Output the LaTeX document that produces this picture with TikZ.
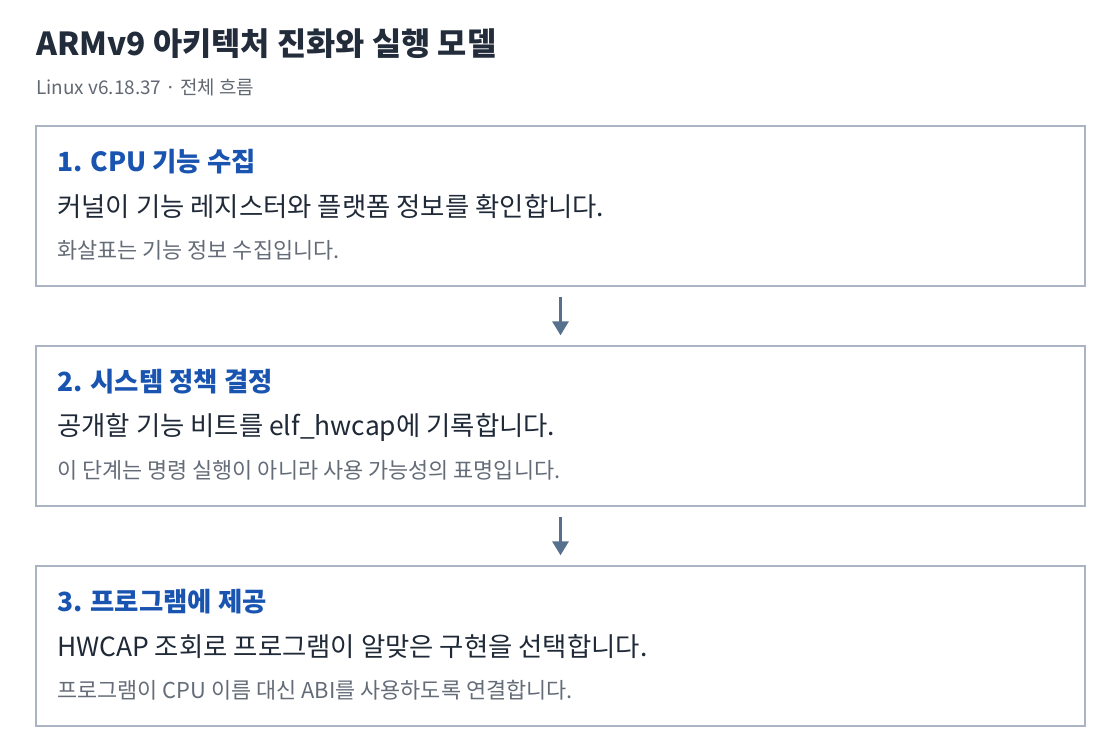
\documentclass[tikz,border=0pt]{standalone}
\usepackage{fontspec}
\setmainfont{Noto Sans CJK KR}
\definecolor{headColour}{RGB}{34, 44, 58}
\definecolor{subColour}{RGB}{98, 104, 114}
\definecolor{stepColour}{RGB}{24, 84, 176}
\definecolor{bodyColour}{RGB}{31, 41, 55}
\definecolor{noteColour}{RGB}{100, 108, 120}
\definecolor{borderColour}{RGB}{170, 180, 195}
\definecolor{arrowColour}{RGB}{86, 112, 142}
\usetikzlibrary{
    arrows.meta,
    positioning
}
\tikzset{
    flowDiagram/.style={
        stepbox/.style={
            rectangle,
            draw = borderColour,
            line width = 1pt,
            minimum width = 786.75pt,
            minimum height = 120pt,
            inner sep = 0pt,
        },
        heading/.style={
            anchor = west,
            inner sep = 0pt,
            text = headColour,
            font = \bfseries\fontsize{23.8}{28}\selectfont,
        },
        subheading/.style={
            anchor = west,
            inner sep = 0pt,
            text = subColour,
            font = \fontsize{14.2}{17}\selectfont,
        },
        steptitle/.style={
            anchor = west,
            inner sep = 0pt,
            text = stepColour,
            font = \bfseries\fontsize{19.8}{24}\selectfont,
        },
        stepbody/.style={
            anchor = west,
            inner sep = 0pt,
            text = bodyColour,
            font = \fontsize{19.8}{24}\selectfont,
        },
        stepnote/.style={
            anchor = west,
            inner sep = 0pt,
            text = noteColour,
            font = \fontsize{16.4}{20}\selectfont,
        },
        arrow/.style={
            -{Triangle[width=12pt, length=10.5pt]},
            draw = arrowColour,
            line width = 2.25pt,
            shorten <= 7.5pt,
            shorten >= 7.5pt,
        },
    }
}

\begin{document}
\begin{tikzpicture}[flowDiagram, x=0.75pt, y=-0.75pt]
    \useasboundingbox (0,0) rectangle (1120,754);

    % heading
    \node[heading] (head_title) at (36, 44) {ARMv9 아키텍처 진화와 실행 모델};
    \node[subheading] (head_sub) at (36, 87) {Linux v6.18.37 · 전체 흐름};

    % step boxes
    \begin{scope}
        \node[stepbox] (box_collect) at (560.5, 206) {};
        \node[stepbox] (box_policy) at (560.5, 426) {};
        \node[stepbox] (box_provide) at (560.5, 646) {};
    \end{scope}

    % step 1
    \node[steptitle] (collect_title) at (57, 162) {1. CPU 기능 수집};
    \node[stepbody] (collect_body) at (57, 207) {커널이 기능 레지스터와 플랫폼 정보를 확인합니다.};
    \node[stepnote] (collect_note) at (57, 250) {화살표는 기능 정보 수집입니다.};

    % step 2
    \node[steptitle] (policy_title) at (57, 382) {2. 시스템 정책 결정};
    \node[stepbody] (policy_body) at (57, 427) {공개할 기능 비트를 elf\_hwcap에 기록합니다.};
    \node[stepnote] (policy_note) at (57, 470) {이 단계는 명령 실행이 아니라 사용 가능성의 표명입니다.};

    % step 3
    \node[steptitle] (provide_title) at (57, 602) {3. 프로그램에 제공};
    \node[stepbody] (provide_body) at (57, 647) {HWCAP 조회로 프로그램이 알맞은 구현을 선택합니다.};
    \node[stepnote] (provide_note) at (57, 690) {프로그램이 CPU 이름 대신 ABI를 사용하도록 연결합니다.};

    \begin{scope}
        \draw[arrow] (box_collect) -- (box_policy);
        \draw[arrow] (box_policy) -- (box_provide);
    \end{scope}
\end{tikzpicture}
\end{document}
